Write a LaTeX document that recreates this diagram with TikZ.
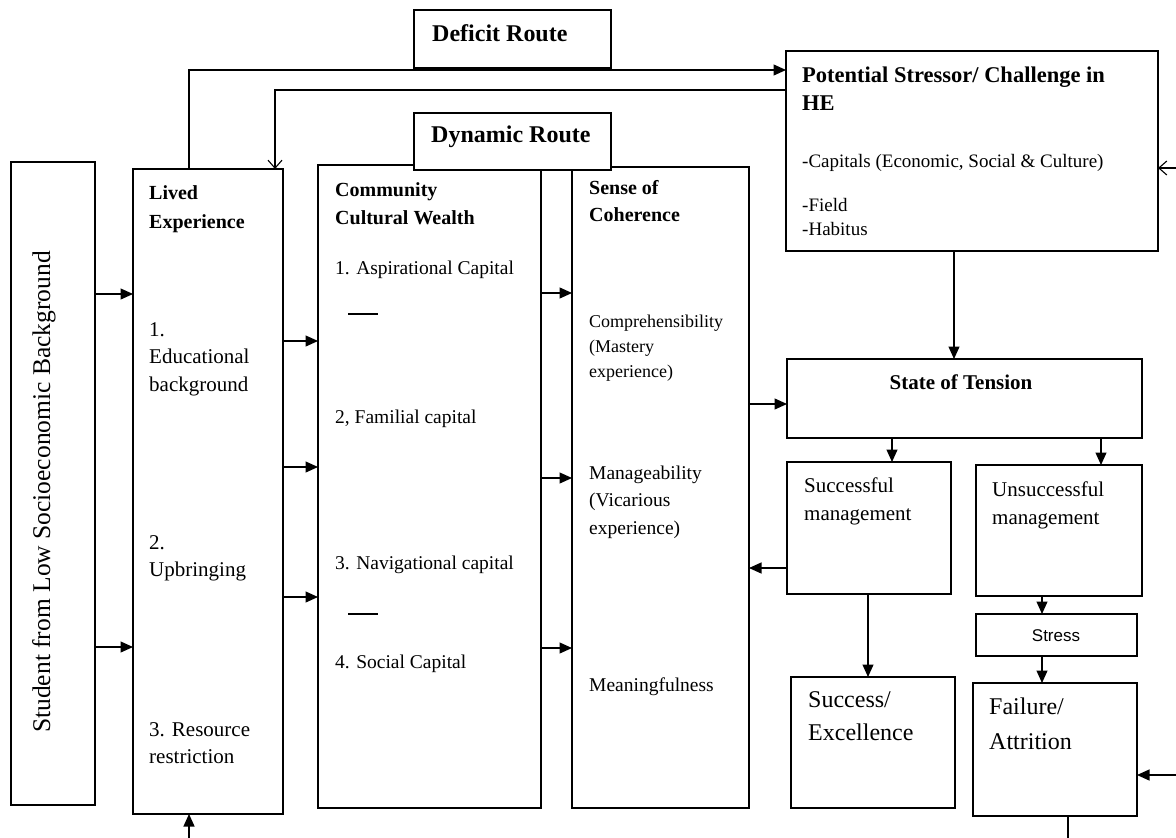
\documentclass[tikz,border=0pt]{standalone}
\usepackage{fontspec}
\setmainfont{Liberation Serif}
\newfontfamily\sansf{Liberation Sans}
\usetikzlibrary{arrows.meta,calc}
\newcommand\myfs[1]{\fontsize{#1}{#1}\selectfont}
\begin{document}
\begin{tikzpicture}[x=1pt,y=-1pt,
  box/.style={draw,line width=1.3pt,rectangle,anchor=north west,inner sep=0pt,outer sep=0pt},
  arr/.style={line width=1.2pt,-{Triangle[length=12.5pt,width=11pt]}},
  oarr/.style={line width=1.1pt,-{Straight Barb[length=8pt,width=14pt]}},
  ln/.style={line width=1.2pt},
  txt/.style={anchor=base west,inner sep=0pt},
  hd/.style={txt,font=\bfseries\myfs{20}},
]
\useasboundingbox (0,0) rectangle (1176,838);
% boxes
\node[box,minimum width=84pt,minimum height=643pt] (student) at (11,162) {};
\node[box,minimum width=150pt,minimum height=645pt] (lived) at (133,169) {};
\node[box,minimum width=223pt,minimum height=643pt] (ccw) at (318,165) {};
\node[box,minimum width=177pt,minimum height=641pt] (soc) at (572,167) {};
\node[box,minimum width=197pt,minimum height=58pt] (deficit) at (414,10) {};
\node[box,fill=white,minimum width=197pt,minimum height=57pt] (dynamic) at (414,113) {};
\node[box,minimum width=372pt,minimum height=200pt] (stressor) at (786,51) {};
\node[box,minimum width=355pt,minimum height=79pt] (tension) at (787,359) {};
\node[box,minimum width=164pt,minimum height=132pt] (succ) at (787,462) {};
\node[box,minimum width=166pt,minimum height=131pt] (unsucc) at (976,465) {};
\node[box,minimum width=161pt,minimum height=42pt] (stress) at (976,614) {};
\node[box,minimum width=164pt,minimum height=131pt] (excel) at (791,677) {};
\node[box,minimum width=164pt,minimum height=133pt] (fail) at (973,683) {};
% texts
\node[rotate=90,inner sep=0pt,font=\myfs{25.5}] (tstudent) at (44,492) {Student from Low Socioeconomic Background};
\node[txt,font=\bfseries\myfs{24}] (tdef) at (432,41) {Deficit Route};
\node[txt,font=\bfseries\myfs{24}] (tdyn) at (431,142) {Dynamic Route};
\node[hd] (tl1) at (149,199) {Lived};
\node[hd] (tl2) at (149,228) {Experience};
\node[txt,font=\myfs{21}] (tl3) at (149,336) {1.};
\node[txt,font=\myfs{21}] (tl4) at (149,363) {Educational};
\node[txt,font=\myfs{21}] (tl5) at (149,391) {background};
\node[txt,font=\myfs{21}] (tl6) at (149,549) {2.};
\node[txt,font=\myfs{21}] (tl7) at (149,576) {Upbringing};
\node[txt,font=\myfs{21}] (tl8) at (149,736) {3. Resource};
\node[txt,font=\myfs{21}] (tl9) at (149,763) {restriction};
\node[hd] (tc1) at (335,196) {Community};
\node[hd] (tc2) at (335,224) {Cultural Wealth};
\node[txt,font=\myfs{19.5}] (tc3) at (335,274) {1. Aspirational Capital};
\node[txt,font=\myfs{19.5}] (tc4) at (335,423) {2, Familial capital};
\node[txt,font=\myfs{19.5}] (tc5) at (335,569) {3. Navigational capital};
\node[txt,font=\myfs{19.5}] (tc6) at (335,668) {4. Social Capital};
\node[hd] (ts1) at (589,194) {Sense of};
\node[hd] (ts2) at (589,221) {Coherence};
\node[txt,font=\myfs{18}] (ts3) at (589,327) {Comprehensibility};
\node[txt,font=\myfs{18}] (ts4) at (589,352) {(Mastery};
\node[txt,font=\myfs{18}] (ts5) at (589,377) {experience)};
\node[txt,font=\myfs{19.5}] (ts6) at (589,479) {Manageability};
\node[txt,font=\myfs{19.5}] (ts7) at (589,506) {(Vicarious};
\node[txt,font=\myfs{19.5}] (ts8) at (589,534) {experience)};
\node[txt,font=\myfs{19.5}] (ts9) at (589,691) {Meaningfulness};
\node[txt,font=\bfseries\myfs{22.5}] (tp1) at (802,82) {Potential Stressor/ Challenge in};
\node[txt,font=\bfseries\myfs{22.5}] (tp2) at (802,110) {HE};
\node[txt,font=\myfs{19}] (tp3) at (802,167) {-Capitals (Economic, Social \& Culture)};
\node[txt,font=\myfs{19}] (tp4) at (802,211) {-Field};
\node[txt,font=\myfs{19}] (tp5) at (802,235) {-Habitus};
\node[anchor=base,inner sep=0pt,font=\bfseries\myfs{21}] (tt) at (961,389) {State of Tension};
\node[txt,font=\myfs{21}] (tsm1) at (804,492) {Successful};
\node[txt,font=\myfs{21}] (tsm2) at (804,520) {management};
\node[txt,font=\myfs{21}] (tum1) at (992,496) {Unsuccessful};
\node[txt,font=\myfs{21}] (tum2) at (992,524) {management};
\node[inner sep=0pt,font=\sansf\myfs{17}] (tstress) at (1056,636) {Stress};
\node[txt,font=\myfs{24}] (te1) at (808,707) {Success/};
\node[txt,font=\myfs{24}] (te2) at (808,740) {Excellence};
\node[txt,font=\myfs{24}] (tf1) at (989,714) {Failure/};
\node[txt,font=\myfs{24}] (tf2) at (989,749) {Attrition};
% dashes
\draw[ln] (348,314) -- (378,314);
\draw[ln] (348,614) -- (378,614);
% connectors
\draw[arr] (student.east |- 0,294) -- (lived.west |- 0,294);
\draw[arr] (student.east |- 0,647) -- (lived.west |- 0,647);
\draw[arr] (lived.east |- 0,341) -- (ccw.west |- 0,341);
\draw[arr] (lived.east |- 0,467) -- (ccw.west |- 0,467);
\draw[arr] (lived.east |- 0,597) -- (ccw.west |- 0,597);
\draw[arr] (ccw.east |- 0,293) -- (soc.west |- 0,293);
\draw[arr] (ccw.east |- 0,478) -- (soc.west |- 0,478);
\draw[arr] (ccw.east |- 0,648) -- (soc.west |- 0,648);
\draw[arr] (soc.east |- 0,404) -- (tension.west |- 0,404);
\draw[arr] ($(lived.north west)+(56,0)$) |- (stressor.west |- 0,70);
\draw[oarr] (stressor.west |- 0,90) -| ($(lived.north west)+(142,0)$);
\coordinate (rin) at (1176,168);
\draw[oarr] (rin) -- (stressor.east |- rin);
\draw[arr] (stressor.south -| 954,0) -- (tension.north -| 954,0);
\draw[arr] (tension.south -| 892,0) -- (succ.north -| 892,0);
\draw[arr] (tension.south -| 1101,0) -- (unsucc.north -| 1101,0);
\draw[arr] (succ.west |- 0,568) -- (soc.east |- 0,568);
\draw[arr] (succ.south -| 868,0) -- (excel.north -| 868,0);
\draw[arr] (unsucc.south -| 1042,0) -- (stress.north -| 1042,0);
\draw[arr] (stress.south -| 1042,0) -- (fail.north -| 1042,0);
\coordinate (fin) at (1176,775);
\draw[arr] (fin) -- (fail.east |- fin);
\coordinate (fout) at (1068,838);
\draw[ln] (fail.south -| fout) -- (fout);
\coordinate (lin) at (189,838);
\draw[arr] (lin) -- (lived.south -| lin);
\end{tikzpicture}
\end{document}
